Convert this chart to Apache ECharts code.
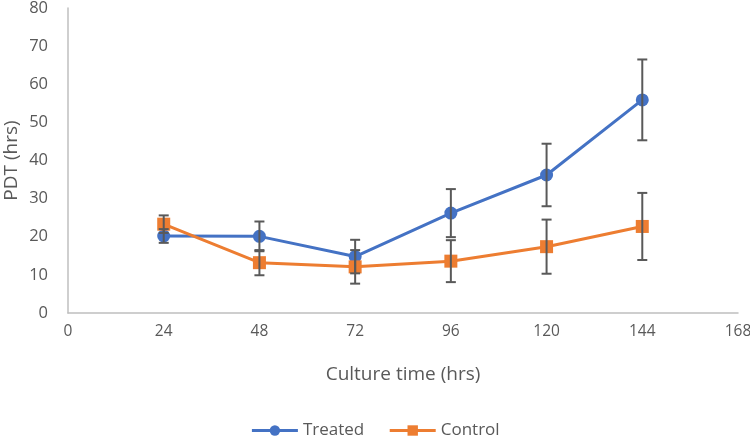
<!DOCTYPE html>
<html><head><meta charset="utf-8">
<script src="https://cdn.jsdelivr.net/npm/echarts@6/dist/echarts.min.js"></script>
<style>html,body{margin:0;padding:0;background:#fff}#c{width:750px;height:439px}</style>
</head><body><div id="c"></div>
<script>
var times = [24, 48, 72, 96, 120, 144];
var treated = [20.2, 20.1, 14.8, 26.2, 36.2, 55.9];
var treatedErr = [1.8, 3.9, 4.4, 6.3, 8.2, 10.6];
var control = [23.3, 13.2, 12.1, 13.6, 17.4, 22.7];
var controlErr = [2.3, 3.3, 4.4, 5.5, 7.1, 8.8];
var xTicks = [0, 24, 48, 72, 96, 120, 144, 168];
var yTicks = [0, 10, 20, 30, 40, 50, 60, 70, 80];

var FONT = '"Open Sans", "Noto Sans", sans-serif';
var TXT = '#595959';

function errData(vals, errs) {
  return times.map(function (t, i) { return [t, vals[i] - errs[i], vals[i] + errs[i]]; });
}
function renderErr(params, api) {
  var x = api.value(0);
  var lo = api.coord([x, api.value(1)]);
  var hi = api.coord([x, api.value(2)]);
  var w = 5;
  var st = { stroke: '#595959', lineWidth: 2 };
  return {
    type: 'group',
    children: [
      { type: 'line', shape: { x1: lo[0], y1: lo[1], x2: hi[0], y2: hi[1] }, style: st },
      { type: 'line', shape: { x1: lo[0] - w, y1: lo[1], x2: lo[0] + w, y2: lo[1] }, style: st },
      { type: 'line', shape: { x1: hi[0] - w, y1: hi[1], x2: hi[0] + w, y2: hi[1] }, style: st }
    ]
  };
}

var chart = echarts.init(document.getElementById('c'));
chart.setOption({
  animation: false,
  backgroundColor: '#fff',
  grid: { left: 68, right: 12, top: 8, bottom: 126, containLabel: false, outerBoundsMode: 'none' },
  legend: {
    top: 417, left: 'center',
    itemWidth: 46, itemHeight: 13, itemGap: 24,
    lineStyle: { width: 3 },
    textStyle: { fontFamily: FONT, fontSize: 17, color: TXT },
    data: ['Treated', 'Control']
  },
  xAxis: {
    type: 'value', min: xTicks[0], max: xTicks[xTicks.length - 1], interval: 24,
    name: 'Culture time (hrs)', nameLocation: 'middle', nameGap: 52, nameMoveOverlap: false,
    nameTextStyle: { fontFamily: FONT, fontSize: 19, color: TXT },
    axisLine: { show: true, lineStyle: { color: '#BFBFBF', width: 1.5 } },
    axisTick: { show: false },
    splitLine: { show: false },
    axisLabel: { fontFamily: FONT, fontSize: 15.5, color: TXT, margin: 11 }
  },
  yAxis: {
    type: 'value', min: yTicks[0], max: yTicks[yTicks.length - 1], interval: 10,
    name: 'PDT (hrs)', nameLocation: 'middle', nameGap: 47, nameRotate: 90, nameMoveOverlap: false,
    nameTextStyle: { fontFamily: FONT, fontSize: 19, color: TXT },
    axisLine: { show: true, lineStyle: { color: '#BFBFBF', width: 1.5 } },
    axisTick: { show: false },
    splitLine: { show: false },
    axisLabel: { fontFamily: FONT, fontSize: 16.5, color: TXT, margin: 20 }
  },
  series: [
    {
      name: 'Treated', type: 'line',
      data: times.map(function (t, i) { return [t, treated[i]]; }),
      symbol: 'circle', symbolSize: 13,
      lineStyle: { color: '#4472C4', width: 3 },
      itemStyle: { color: '#4472C4' }, z: 3
    },
    {
      name: 'Control', type: 'line',
      data: times.map(function (t, i) { return [t, control[i]]; }),
      symbol: 'rect', symbolSize: 13,
      lineStyle: { color: '#ED7D31', width: 3 },
      itemStyle: { color: '#ED7D31' }, z: 3
    },
    {
      type: 'custom', renderItem: renderErr, data: errData(treated, treatedErr),
      encode: { x: 0, y: [1, 2] }, z: 4, silent: true
    },
    {
      type: 'custom', renderItem: renderErr, data: errData(control, controlErr),
      encode: { x: 0, y: [1, 2] }, z: 4, silent: true
    }
  ]
});
</script></body></html>
